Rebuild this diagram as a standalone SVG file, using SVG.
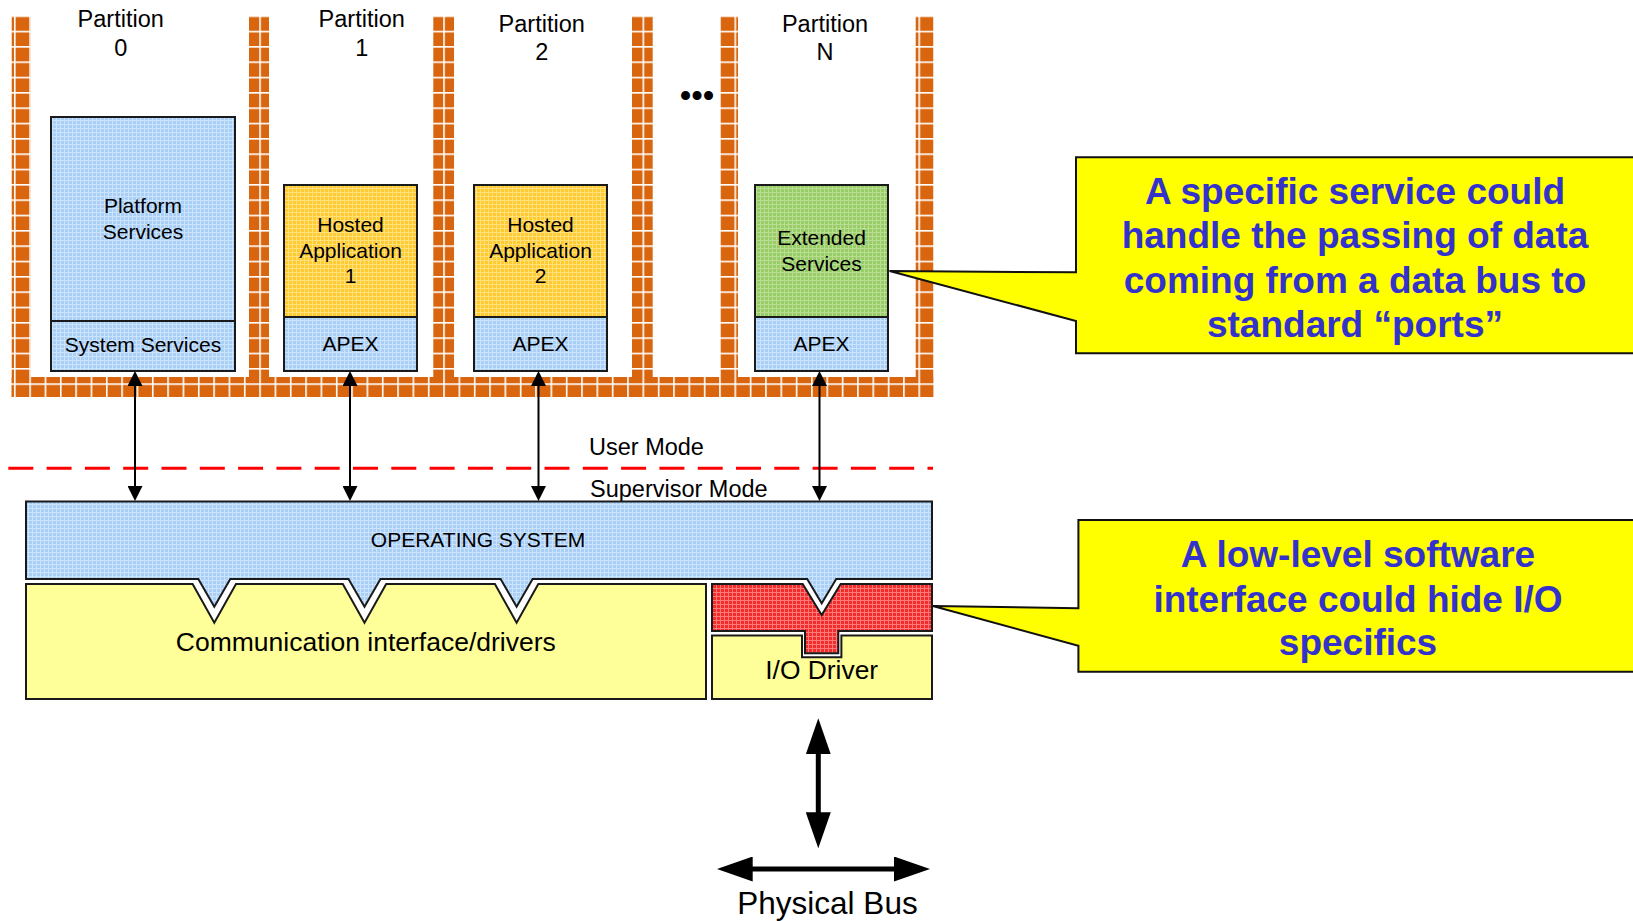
<svg xmlns="http://www.w3.org/2000/svg" width="1633" height="921" viewBox="0 0 1633 921">
  <style>
    text { font-family: "Liberation Sans", Arial, sans-serif; fill: #000; }
    .part { font-size: 23.5px; text-anchor: middle; }
    .box { stroke: #1a1a1a; stroke-width: 2; }
    .bt { font-size: 21px; text-anchor: middle; }
    .mode { font-size: 23.5px; }
    .big { font-size: 26.5px; text-anchor: middle; }
    .callout { fill: #FFFF00; stroke: #111; stroke-width: 2; stroke-linejoin: miter; }
    .ct { font-size: 37px; font-weight: bold; fill: #3333CC; text-anchor: middle; }
    .thin { stroke: #000; stroke-width: 2; fill: none; marker-start: url(#headS); marker-end: url(#headS); }
    .thick { stroke: #000; stroke-width: 5; fill: none; marker-start: url(#headL); marker-end: url(#headL); }
  </style>
  <defs>
    <!-- brick texture for the partition walls and floor -->
    <pattern id="brick" patternUnits="userSpaceOnUse" x="13.97" y="15.4" width="15.33" height="15.33">
      <rect width="15.33" height="15.33" fill="#D9660F"/>
      <rect width="15.33" height="1.6" fill="#FFFFFF"/>
      <rect width="1.6" height="15.33" fill="#FFFFFF"/>
    </pattern>
    <!-- fine grid fills -->
    <pattern id="gBlue" patternUnits="userSpaceOnUse" width="4" height="4">
      <rect width="4" height="4" fill="#AACFF7"/>
      <path d="M0,0.5H4M0.5,0V4" stroke="#CBE3FD" stroke-width="1"/>
    </pattern>
    <pattern id="gGold" patternUnits="userSpaceOnUse" width="4" height="4">
      <rect width="4" height="4" fill="#FFCB2F"/>
      <path d="M0,0.5H4M0.5,0V4" stroke="#FFE07C" stroke-width="1"/>
    </pattern>
    <pattern id="gGreen" patternUnits="userSpaceOnUse" width="4" height="4">
      <rect width="4" height="4" fill="#97CC66"/>
      <path d="M0,0.5H4M0.5,0V4" stroke="#B8DD93" stroke-width="1"/>
    </pattern>
    <pattern id="gRed" patternUnits="userSpaceOnUse" width="4" height="4">
      <rect width="4" height="4" fill="#F22B2B"/>
      <path d="M0,0.5H4M0.5,0V4" stroke="#FF7A7A" stroke-width="1"/>
    </pattern>
    <marker id="headS" viewBox="0 0 15 15" refX="7" refY="7.5" markerWidth="15" markerHeight="15" markerUnits="userSpaceOnUse" orient="auto-start-reverse">
      <path d="M0,0 L15,7.5 L0,15 Z" fill="#000"/>
    </marker>
    <marker id="headL" viewBox="0 0 36 25" refX="16" refY="12.5" markerWidth="36" markerHeight="25" markerUnits="userSpaceOnUse" orient="auto-start-reverse">
      <path d="M0,0 L36,12.5 L0,25 Z" fill="#000"/>
    </marker>
  </defs>

  <rect width="1633" height="921" fill="#FFFFFF"/>

  <!-- partition walls and floor -->
  <g id="partition-walls" fill="url(#brick)">
    <rect x="11.7" y="377" width="921.6" height="20"/>
    <rect x="11.7" y="16" width="19" height="381"/>
    <rect x="249" y="16" width="20" height="381"/>
    <rect x="433.3" y="16" width="20.7" height="381"/>
    <rect x="632" y="16" width="20.7" height="381"/>
    <rect x="720" y="16" width="18" height="381"/>
    <rect x="915.7" y="16" width="17.6" height="381"/>
  </g>

  <g id="partition-0-label">
    <text class="part" x="120.7" y="27.3">Partition</text>
    <text class="part" x="120.7" y="56">0</text>
  </g>
  <g id="partition-1-label">
    <text class="part" x="361.7" y="27.3">Partition</text>
    <text class="part" x="361.7" y="56">1</text>
  </g>
  <g id="partition-2-label">
    <text class="part" x="541.7" y="31.7">Partition</text>
    <text class="part" x="541.7" y="60">2</text>
  </g>
  <g id="partition-n-label">
    <text class="part" x="825" y="31.7">Partition</text>
    <text class="part" x="825" y="60">N</text>
  </g>
  <g id="more-partitions">
    <text x="697" y="107" style="font-size:33px;text-anchor:middle">•••</text>
  </g>

  <!-- partition 0 -->
  <g id="platform-services">
    <rect class="box" x="51" y="117" width="184" height="204" fill="url(#gBlue)"/>
    <text class="bt" x="143" y="213">Platform</text>
    <text class="bt" x="143" y="239">Services</text>
  </g>
  <g id="system-services">
    <rect class="box" x="51" y="321" width="184" height="50" fill="url(#gBlue)"/>
    <text class="bt" x="143" y="352">System Services</text>
  </g>

  <!-- partition 1 -->
  <g id="hosted-application-1">
    <rect class="box" x="284" y="185" width="133" height="132" fill="url(#gGold)"/>
    <text class="bt" x="350.5" y="232">Hosted</text>
    <text class="bt" x="350.5" y="258">Application</text>
    <text class="bt" x="350.5" y="283">1</text>
  </g>
  <g id="apex-1">
    <rect class="box" x="284" y="317" width="133" height="54" fill="url(#gBlue)"/>
    <text class="bt" x="350.5" y="351">APEX</text>
  </g>

  <!-- partition 2 -->
  <g id="hosted-application-2">
    <rect class="box" x="474" y="185" width="133" height="132" fill="url(#gGold)"/>
    <text class="bt" x="540.5" y="232">Hosted</text>
    <text class="bt" x="540.5" y="258">Application</text>
    <text class="bt" x="540.5" y="283">2</text>
  </g>
  <g id="apex-2">
    <rect class="box" x="474" y="317" width="133" height="54" fill="url(#gBlue)"/>
    <text class="bt" x="540.5" y="351">APEX</text>
  </g>

  <!-- partition N -->
  <g id="extended-services">
    <rect class="box" x="755" y="185" width="133" height="132" fill="url(#gGreen)"/>
    <text class="bt" x="821.5" y="245">Extended</text>
    <text class="bt" x="821.5" y="271">Services</text>
  </g>
  <g id="apex-n">
    <rect class="box" x="755" y="317" width="133" height="54" fill="url(#gBlue)"/>
    <text class="bt" x="821.5" y="351">APEX</text>
  </g>

  <!-- user / supervisor boundary -->
  <g id="mode-boundary">
    <line x1="8.3" y1="468.3" x2="933" y2="468.3" stroke="#FF0000" stroke-width="3" stroke-dasharray="25 13.3"/>
    <text class="mode" x="589" y="455">User Mode</text>
    <text class="mode" x="590" y="497">Supervisor Mode</text>
  </g>

  <!-- kernel layer -->
  <g id="operating-system">
    <path class="box" fill="url(#gBlue)" d="M26,501.5 H932 V579 H836.2 L821.7,603.3 L807.2,579 H532.6 L516.6,606.7 L500.6,579 H380.5 L364.5,606.7 L348.5,579 H230.3 L214.3,606.7 L198.3,579 H26 Z"/>
    <text class="bt" x="478" y="546.7">OPERATING SYSTEM</text>
  </g>
  <g id="communication-drivers">
    <path class="box" fill="#FFFF99" d="M26,584 H192.6 L214.3,622.7 L236,584 H342.8 L364.5,622.7 L386.2,584 H494.9 L516.6,622.7 L538.3,584 H706 V699 H26 Z"/>
    <text class="big" x="365.8" y="651">Communication interface/drivers</text>
  </g>
  <g id="io-interface">
    <path class="box" fill="url(#gRed)" d="M712,584 H802.7 L821.7,615 L840.7,584 H932 V631 H838.3 V653.3 H805 V631 H712 Z"/>
  </g>
  <g id="io-driver">
    <path class="box" fill="#FFFF99" d="M712,635.5 H802 V657.3 H841.4 V635.5 H932 V699 H712 Z"/>
    <text class="big" x="821.7" y="679" style="font-size:26.4px">I/O Driver</text>
  </g>

  <g id="physical-bus">
    <text x="827.5" y="914" style="font-size:31.5px;text-anchor:middle">Physical Bus</text>
  </g>

  <!-- callouts -->
  <g id="callout-service">
    <path class="callout" d="M1076,157.3 H1645 V353.3 H1076 V321 L889.6,271 L1076,272.3 Z"/>
    <text class="ct" x="1355" y="203.5">A specific service could</text>
    <text class="ct" x="1355" y="248">handle the passing of data</text>
    <text class="ct" x="1355" y="292.5">coming from a data bus to</text>
    <text class="ct" x="1355" y="337">standard “ports”</text>
  </g>
  <g id="callout-io">
    <path class="callout" d="M1078.4,520 H1645 V671.7 H1078.4 V645.7 L932.8,606 L1078.4,608.3 Z"/>
    <text class="ct" x="1358" y="566.7">A low-level software</text>
    <text class="ct" x="1358" y="611.7">interface could hide I/O</text>
    <text class="ct" x="1358" y="655">specifics</text>
  </g>

  <!-- connectors -->
  <g id="connectors">
    <line class="thin" x1="135" y1="379" x2="135" y2="493"/>
    <line class="thin" x1="350" y1="379" x2="350" y2="493"/>
    <line class="thin" x1="538.5" y1="379" x2="538.5" y2="493"/>
    <line class="thin" x1="819.5" y1="379" x2="819.5" y2="493"/>
    <line class="thick" x1="818.3" y1="738.3" x2="818.3" y2="828.3"/>
    <line class="thick" x1="736.7" y1="869" x2="910" y2="869"/>
  </g>
</svg>
